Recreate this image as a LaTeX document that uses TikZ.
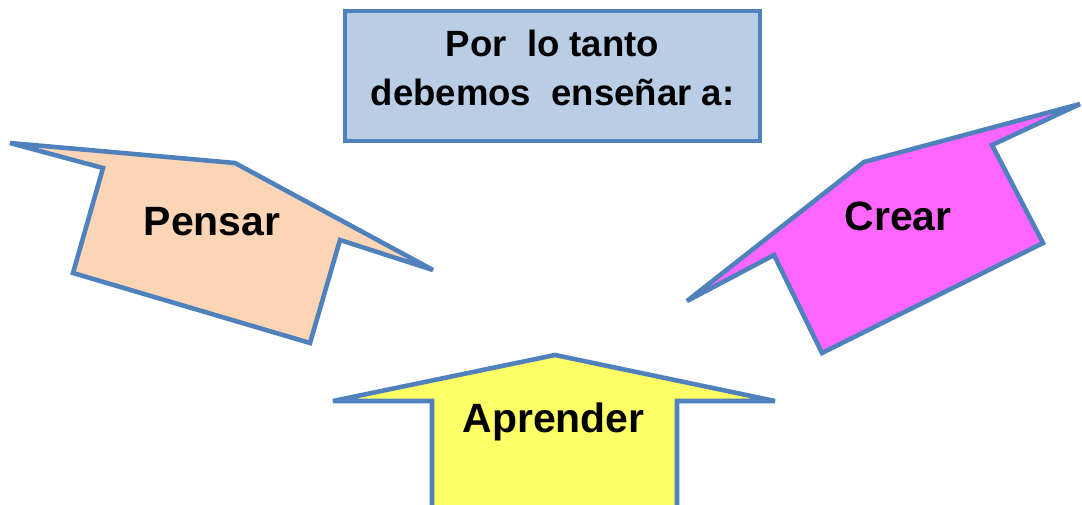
\documentclass[tikz,border=0pt]{standalone}
\usepackage{fontspec}
\setmainfont{Liberation Sans}
\usetikzlibrary{positioning}
\definecolor{edgeblue}{HTML}{4F81BD}
\definecolor{titlefill}{HTML}{B9CDE5}
\definecolor{peach}{HTML}{FBD5B5}
\definecolor{pinkish}{HTML}{FF66FF}
\definecolor{lemon}{HTML}{FFFF66}

\begin{document}
\begin{tikzpicture}[x=0.02cm,y=-0.02cm,
   shp/.style={draw=edgeblue,line width=2.6pt,line join=miter,miter limit=4},
   lbl/.style={inner sep=0pt,anchor=base,font=\bfseries\fontsize{23.3}{28}\selectfont}]
  \useasboundingbox (0,0) rectangle (1082,504);
  \clip (0,0) rectangle (1082,504);
  % title box
  \node[shp,fill=titlefill,minimum width=8.3cm,minimum height=2.6cm] (title) at (552.5,76) {};
  \node[inner sep=0pt,align=center,font=\bfseries\fontsize{20.8}{28}\selectfont] (titletxt) at (552.5,68)
     {Por~ lo tanto\\debemos~ enseñar a:};
  % left arrow
  \draw[shp,fill=peach] (10,143) -- (235,163) -- (433,270) -- (340,240) -- (310,343)
     -- (73,273) -- (103,168) -- cycle;
  \node[lbl] (pensar) at (212,235) {Pensar};
  % right arrow
  \draw[shp,fill=pinkish] (1080,104) -- (992,145) -- (1043,243) -- (822,353) -- (774,255)
     -- (687,301) -- (864,162) -- cycle;
  \node[lbl] (crear) at (898,230) {Crear};
  % bottom arrow
  \draw[shp,fill=lemon] (555,355) -- (775,401) -- (677,401) -- (677,520) -- (432,520)
     -- (432,401) -- (333,401) -- cycle;
  \node[lbl] (aprender) at (553.5,432) {Aprender};
\end{tikzpicture}
\end{document}
